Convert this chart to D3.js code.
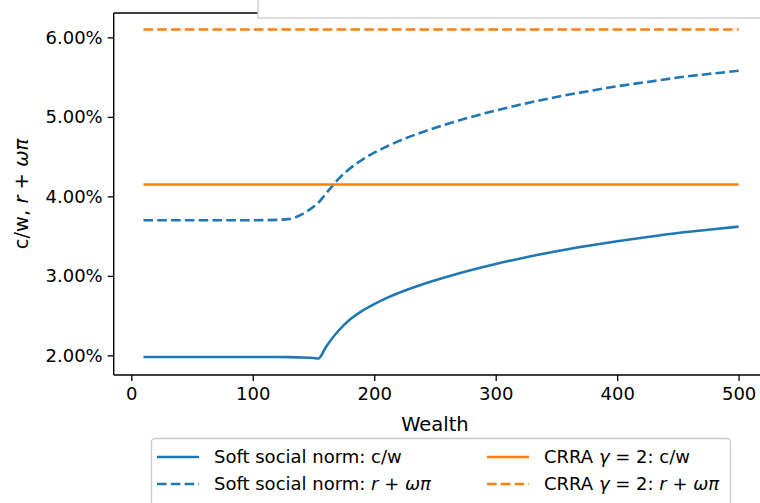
<!DOCTYPE html>
<html><head><meta charset="utf-8">
<script src="https://cdn.jsdelivr.net/npm/d3@7"></script>
<style>
html,body{margin:0;padding:0;background:#fff;}
svg{display:block;font-family:"DejaVu Sans",sans-serif;}
</style></head>
<body><svg id="c" width="760" height="503"></svg>
<script>
const wealth      = [10,50,100,120,130,140,150,154,160,170,180,190,200,210,220,240,260,280,300,325,350,375,400,425,450,475,500];
const softCW      = [1.98,1.98,1.98,1.98,1.978,1.974,1.966,1.96,2.10,2.30,2.45,2.56,2.645,2.72,2.785,2.895,2.99,3.075,3.15,3.235,3.31,3.375,3.435,3.49,3.54,3.58,3.62];
const softRet     = [3.70,3.70,3.70,3.705,3.715,3.77,3.87,3.92,4.03,4.21,4.35,4.46,4.55,4.625,4.695,4.81,4.91,5.00,5.08,5.17,5.25,5.32,5.385,5.44,5.495,5.54,5.58];
const crraCW      = [4.15,4.15];
const crraRet     = [6.10,6.10];
const crraWealth  = [10,500];
const xTicks      = [0,100,200,300,400,500];
const yTicks      = [2,3,4,5,6];

const blue="#1f77b4", orange="#ff7f0e";
const svg=d3.select("#c");
const L=113.7, B=375, T=13;
const x=d3.scaleLinear().domain([-14.5,524.5]).range([L,L+539*1.2146]);
const y=d3.scaleLinear().domain([1.753,6.307]).range([B,T]);
const FS=18, LFS=19.5;

const line=d3.line().x(d=>x(d[0])).y(d=>y(d[1])).curve(d3.curveMonotoneX);
const series=[
  {w:wealth,v:softCW,c:blue,dash:null},
  {w:wealth,v:softRet,c:blue,dash:"9.6,4.2"},
  {w:crraWealth,v:crraCW,c:orange,dash:null},
  {w:crraWealth,v:crraRet,c:orange,dash:"9.6,4.2"}
];
series.forEach(s=>{
  svg.append("path").datum(s.w.map((w,i)=>[w,s.v[i]]))
    .attr("d",line).attr("fill","none").attr("stroke",s.c)
    .attr("stroke-width",2.6).attr("stroke-dasharray",s.dash);
});

// axes
const xa=svg.append("g").attr("transform",`translate(0,${B})`)
  .call(d3.axisBottom(x).tickValues(xTicks).tickSize(6).tickPadding(6).tickFormat(d3.format("d")));
const ya=svg.append("g").attr("transform",`translate(${L},0)`)
  .call(d3.axisLeft(y).tickValues(yTicks).tickSize(6).tickPadding(5).tickFormat(d=>d.toFixed(2)+"%"));
[xa,ya].forEach(a=>{
  a.select(".domain").remove();
  a.selectAll("line").attr("stroke","#000").attr("stroke-width",1.3);
  a.selectAll("text").attr("font-size",FS).attr("fill","#000").attr("font-family","DejaVu Sans");
});
// spines
svg.append("line").attr("x1",L).attr("x2",L).attr("y1",T).attr("y2",B).attr("stroke","#000").attr("stroke-width",1.4);
svg.append("line").attr("x1",L).attr("x2",760).attr("y1",B).attr("y2",B).attr("stroke","#000").attr("stroke-width",1.4);
svg.append("line").attr("x1",L).attr("x2",300).attr("y1",T).attr("y2",T).attr("stroke","#000").attr("stroke-width",1.4);
// overlapping box at top right
svg.append("rect").attr("x",258).attr("y",-10).attr("width",540).attr("height",28)
  .attr("fill","#fff").attr("stroke","#cccccc").attr("stroke-width",1.3);

// labels
svg.append("text").attr("x",x(250)).attr("y",431).attr("text-anchor","middle")
  .attr("font-size",LFS).text("Wealth");
const yl=svg.append("text").attr("transform",`translate(28,${(T+B)/2}) rotate(-90)`)
  .attr("text-anchor","middle").attr("font-size",LFS);
yl.append("tspan").text("c/w, ");
yl.append("tspan").attr("font-style","italic").text("r");
yl.append("tspan").text(" + ");
yl.append("tspan").attr("font-style","italic").text("ωπ");

// legend
const lg=svg.append("g");
lg.append("rect").attr("x",151.5).attr("y",438.5).attr("width",579).attr("height",80)
  .attr("rx",3.5).attr("fill","#fff").attr("fill-opacity",0.8).attr("stroke","#cccccc").attr("stroke-width",1.3);
const items=[
  {c:blue,dash:null,x:157,y:457,parts:[["Soft social norm: c/w",0]]},
  {c:blue,dash:"9.6,4.2",x:157,y:484,parts:[["Soft social norm: ",0],["r",1],[" + ",0],["ωπ",1]]},
  {c:orange,dash:null,x:487,y:457,parts:[["CRRA ",0],["γ",1],[" = 2: c/w",0]]},
  {c:orange,dash:"9.6,4.2",x:487,y:484,parts:[["CRRA ",0],["γ",1],[" = 2: ",0],["r",1],[" + ",0],["ωπ",1]]}
];
items.forEach(it=>{
  lg.append("line").attr("x1",it.x).attr("x2",it.x+42).attr("y1",it.y).attr("y2",it.y)
    .attr("stroke",it.c).attr("stroke-width",2.6).attr("stroke-dasharray",it.dash);
  const t=lg.append("text").attr("x",it.x+57).attr("y",it.y).attr("dy","0.35em").attr("font-size",FS);
  it.parts.forEach(p=>t.append("tspan").attr("font-style",p[1]?"italic":null).text(p[0]));
});
</script></body></html>
